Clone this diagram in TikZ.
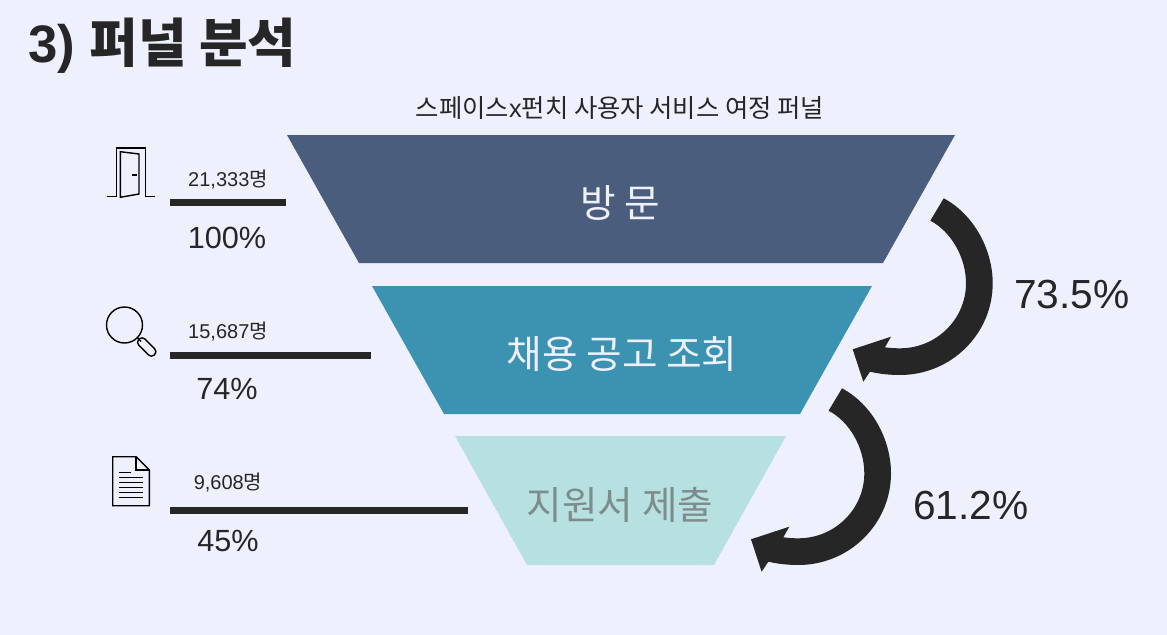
\documentclass[tikz,border=0pt]{standalone}
\usepackage{fontspec}
\setmainfont{Liberation Sans}
\newfontfamily\krfont{Noto Sans CJK KR}
\definecolor{pagebg}{RGB}{238,240,253}
\definecolor{inkdark}{RGB}{38,38,38}
\definecolor{stepone}{RGB}{74,93,124}
\definecolor{steptwo}{RGB}{59,147,177}
\definecolor{stepthree}{RGB}{183,225,224}
\definecolor{stepthreetext}{RGB}{125,140,140}
\tikzset{
  txtlabel/.style={inner sep=0pt,text=inkdark},
  funneltext/.style={inner sep=0pt,text=pagebg,font=\fontsize{29}{33}\krfont},
  countlabel/.style={txtlabel,font=\fontsize{15}{18}\selectfont},
  percentlabel/.style={txtlabel,font=\fontsize{23}{27}\selectfont},
  ratelabel/.style={txtlabel,font=\fontsize{30.5}{35}\selectfont},
  statbar/.style={draw=inkdark,line width=5pt},
  iconline/.style={draw=black,line width=1.05pt,line join=miter}
}
\newcommand{\bendarrow}[2]{
  \fill[inkdark,shift={(#1,#2)}] (943.7,198.3) .. controls (973.7,214.3) and (992.7,249.3) .. (992.7,283.3)
    .. controls (992.7,334) and (951,375) .. (900,375)
    .. controls (890,375) and (880,374) .. (870,371.7)
    -- (863.3,381.7) -- (852.7,349.3) -- (891,336.7) -- (885,347.3)
    .. controls (890,348) and (895,348.3) .. (900,348.3)
    .. controls (936.5,348.3) and (966,319) .. (966,283.3)
    .. controls (966,258) and (951.5,231.7) .. (930.3,220.7) -- cycle;
}

\begin{document}
\begin{tikzpicture}[x=0.75pt,y=0.75pt,yscale=-1,xscale=1]
\useasboundingbox (0,0) rectangle (1167,635);
\fill[pagebg] (0,0) rectangle (1167,635);

%Funnel steps
\fill[stepone] (287,135) -- (955,135) -- (883,263) -- (359,263) -- cycle;
\fill[steptwo] (372,286) -- (872,286) -- (800,414) -- (444,414) -- cycle;
\fill[stepthree] (455,436) -- (786,436) -- (714,565) -- (527,565) -- cycle;

%Curved arrows
\bendarrow{0}{0}
\bendarrow{-101.7}{190}

%Stat bars
\coordinate (barastart) at (170,202.7);
\coordinate (baraend) at (286,202.7);
\coordinate (barbstart) at (170,355.7);
\coordinate (barbend) at (371,355.7);
\coordinate (barcstart) at (170,510.7);
\coordinate (barcend) at (468,510.7);
\draw[statbar] (barastart) -- (baraend);
\draw[statbar] (barbstart) -- (barbend);
\draw[statbar] (barcstart) -- (barcend);

%Door icon
\draw[iconline] (107.3,196.7) -- (116.3,196.7) -- (116.3,148) -- (145.7,148) -- (145.7,196.7) -- (154.7,196.7);
\draw[iconline] (120.3,151.7) -- (139,154) -- (139,194) -- (120.3,197.3) -- cycle;
\draw[iconline,line width=1.5pt] (131.7,174.7) -- (136.7,174.7);

%Magnifier icon
\draw[iconline] (124.5,325) circle (18);
\draw[iconline] (137.5,337.7) -- (141,341.5);
\node[draw=black,line width=1.05pt,rounded corners=3pt,rotate=-45,minimum width=16.5pt,minimum height=6.5pt,inner sep=0pt] (lenshandle) at (146.7,347) {};

%Document icon
\draw[iconline] (112.7,456.7) -- (136,456.7) -- (149.3,470) -- (149.3,505.7) -- (112.7,505.7) -- cycle;
\draw[iconline] (136,456.7) -- (136,470) -- (149.3,470);
\draw[iconline] (118.7,472.7) -- (130.7,472.7);
\draw[iconline] (118.7,477.7) -- (143.3,477.7);
\draw[iconline] (118.7,482.7) -- (143.3,482.7);
\draw[iconline] (118.7,487.7) -- (143.3,487.7);
\draw[iconline] (118.7,492.7) -- (143.3,492.7);
\draw[iconline] (118.7,497.7) -- (143.3,497.7);

% Text Node
\node[txtlabel,anchor=west,font=\fontsize{39.6}{45}\bfseries] (title) at (28,46) {3) {\krfont\bfseries 퍼널 분석}};
% Text Node
\node[txtlabel,font=\fontsize{19}{22}\selectfont] (subtitle) at (620,108) {{\krfont 스페이스}x{\krfont 펀치 사용자 서비스 여정 퍼널}};
% Text Node
\node[funneltext] (visit) at (620,203) {방 문};
% Text Node
\node[funneltext] (browse) at (622,354) {채용 공고 조회};
% Text Node
\node[funneltext,text=stepthreetext] (apply) at (620,505) {지원서 제출};
% Text Node
\node[countlabel] (counta) at (228,180) {21,333{\krfont 명}};
% Text Node
\node[countlabel] (countb) at (228,332) {15,687{\krfont 명}};
% Text Node
\node[countlabel] (countc) at (228,483) {9,608{\krfont 명}};
% Text Node
\node[percentlabel] (percenta) at (227,238) {100\%};
% Text Node
\node[percentlabel] (percentb) at (227,389) {74\%};
% Text Node
\node[percentlabel] (percentc) at (228,541) {45\%};
% Text Node
\node[ratelabel] (ratea) at (1072,294) {73.5\%};
% Text Node
\node[ratelabel] (rateb) at (971,505) {61.2\%};

\end{tikzpicture}
\end{document}
